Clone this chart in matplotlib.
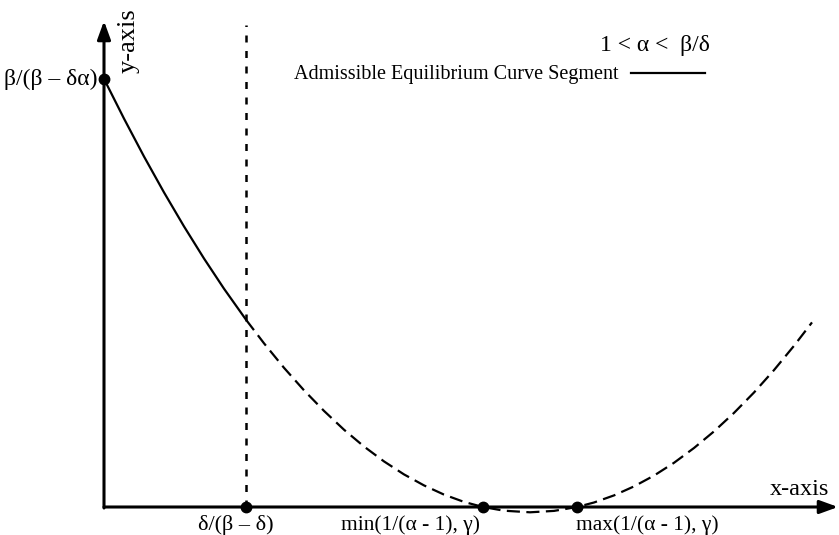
import matplotlib
matplotlib.use("Agg")
import matplotlib.pyplot as plt

plt.rcParams['font.family'] = ['Liberation Serif', 'DejaVu Serif']

# Curve (x from y-axis, y above x-axis, in pixel-like units)
solid_x = [0, 20, 40, 60, 80, 100, 120, 142]
solid_y = [428.1, 388.4, 350.5, 314.6, 280.6, 248.5, 218.3, 187.3]
dash_x = [142, 160, 180, 200, 220, 240, 260, 280, 300, 320, 340, 360, 379,
          400, 426, 450, 473, 490, 510, 530, 550, 570, 590, 610, 630, 650,
          670, 690, 708]
dash_y = [187.3, 163.7, 139.2, 116.7, 96.1, 77.3, 60.5, 45.6, 32.6, 21.6, 12.4, 5.1, 0,
          -3.7, -5.3, -3.9, 0, 4.5, 11.6, 20.6, 31.4, 44.2, 59.0, 75.6, 94.1, 114.5,
          136.9, 161.2, 184.6]

# Marked points
y_point = 428
x_points = [142, 379, 473]
x_labels = ['δ/(β – δ)', 'min(1/(α - 1), γ)', 'max(1/(α - 1), γ)']
y_label = 'β/(β – δα)'
legend_title = '1 < α <  β/δ'
legend_text = 'Admissible Equilibrium Curve Segment'

fig = plt.figure(figsize=(8.39, 5.35), dpi=100)
ax = fig.add_axes([0, 0, 1, 1])
ax.set_xlim(-104, 735)
ax.set_ylim(-28, 507)
ax.axis('off')

arrow_style = '-|>,head_length=0.55,head_width=0.2'
# axes with arrows
ax.annotate('', xy=(734, 0), xytext=(0, 0),
            arrowprops=dict(arrowstyle=arrow_style, lw=2.2, color='k',
                            mutation_scale=20, shrinkA=0, shrinkB=0))
ax.annotate('', xy=(0, 486), xytext=(0, -1),
            arrowprops=dict(arrowstyle=arrow_style, lw=2.2, color='k',
                            mutation_scale=20, shrinkA=0, shrinkB=0))

# vertical dotted line
ax.plot([x_points[0], x_points[0]], [0, 482], color='k', lw=1.8,
        linestyle=(0, (2.8, 3.4)))

# curve
ax.plot(solid_x, solid_y, color='k', lw=1.6, solid_capstyle='butt')
ax.plot(dash_x, dash_y, color='k', lw=1.6, linestyle=(0, (5.9, 2.9)))

# points
ax.plot([0], [y_point], 'o', color='k', ms=7.5, zorder=5)
ax.plot(x_points, [0] * len(x_points), 'o', color='k', ms=7.5, zorder=5, clip_on=False)

# labels
ax.text(-6, y_point, y_label, ha='right', va='center', fontsize=17)
ax.text(x_points[0] - 10, -8, x_labels[0], ha='center', va='top', fontsize=16)
ax.text(x_points[1] - 3, -8, x_labels[1], ha='right', va='top', fontsize=15.5)
ax.text(x_points[2] - 1, -8, x_labels[2], ha='left', va='top', fontsize=15.5)
ax.text(725, 7, 'x-axis', ha='right', va='bottom', fontsize=17.5)
ax.text(25, 466, 'y-axis', ha='center', va='center', rotation=90, fontsize=19)

# legend
ax.text(606, 462, legend_title, ha='right', va='center', fontsize=17)
ax.text(514, 433, legend_text, ha='right', va='center', fontsize=14.5)
ax.plot([527, 601], [434, 434], color='k', lw=1.6)

fig.savefig('out.png', dpi=100)
